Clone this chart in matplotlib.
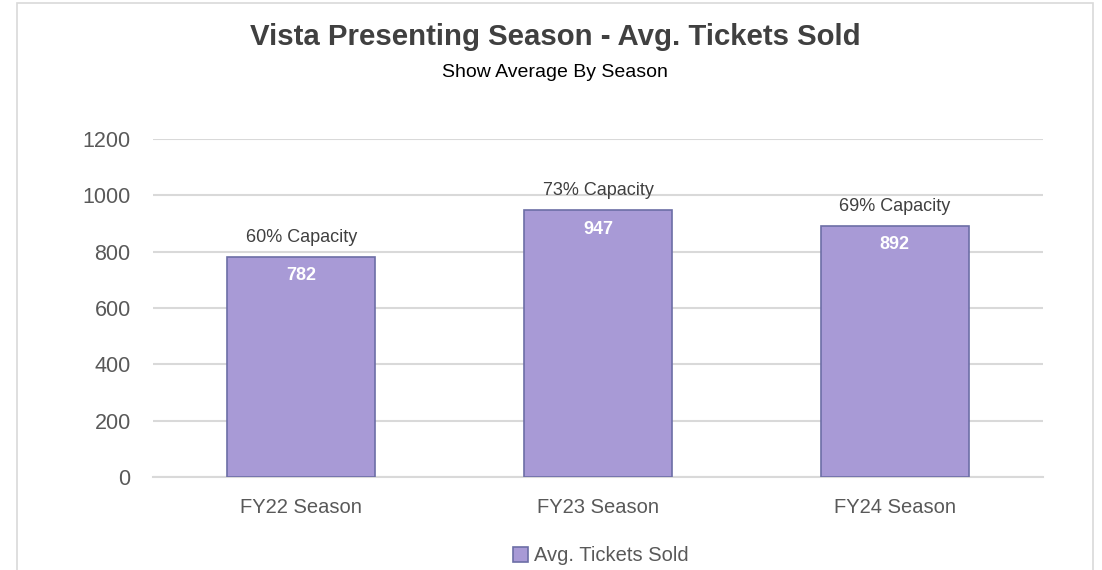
import matplotlib.pyplot as plt
from matplotlib.patches import Rectangle

seasons = ["FY22 Season", "FY23 Season", "FY24 Season"]
avg_tickets = [782, 947, 892]
capacity_pct = [60, 73, 69]
yticks = [0, 200, 400, 600, 800, 1000, 1200]

plt.rcParams['font.family'] = ['Liberation Sans', 'DejaVu Sans']

fig = plt.figure(figsize=(11.02, 5.70), dpi=100)
ax = fig.add_axes([0.1388, 0.163, 0.8077, 0.593])

# light frame around the chart area
fig.patches.append(Rectangle((0.0155, -0.02), 0.976, 1.015, transform=fig.transFigure,
                             fill=False, edgecolor='#d9d9d9', linewidth=1.2))

x = range(len(seasons))
bars = ax.bar(x, avg_tickets, width=0.5, color='#a89ad6', edgecolor='#6c6ea6', linewidth=1.2,
              label='Avg. Tickets Sold', zorder=3)

for xi, v, pct in zip(x, avg_tickets, capacity_pct):
    ax.annotate(f"{pct}% Capacity", (xi, v), xytext=(0, 14), textcoords='offset points',
                ha='center', va='center', fontsize=13, color='#404040')
    ax.annotate(f"{v}", (xi, v), xytext=(0, -13.5), textcoords='offset points',
                ha='center', va='center', fontsize=13, fontweight='bold', color='white')

ax.set_xlim(-0.5, 2.5)
ax.set_ylim(0, 1200)
ax.set_yticks(yticks)
ax.set_xticks(list(x))
ax.set_xticklabels(seasons)
ax.tick_params(axis='both', length=0, colors='#595959')
ax.tick_params(axis='x', pad=15, labelsize=14.5)
ax.tick_params(axis='y', pad=16, labelsize=15.5)
ax.grid(axis='y', color='#d9d9d9', linewidth=1.5, zorder=0)
for s in ['top', 'right', 'left']:
    ax.spines[s].set_visible(False)
ax.spines['bottom'].set_color('#d9d9d9')
ax.spines['bottom'].set_linewidth(1.5)

fig.text(0.504, 0.935, "Vista Presenting Season - Avg. Tickets Sold", ha='center', va='center',
         fontsize=21.2, fontweight='bold', color='#404040')
fig.text(0.504, 0.872, "Show Average By Season", ha='center', va='center',
         fontsize=14, color='black')

fig.legend(handles=[bars], labels=['Avg. Tickets Sold'], loc='center', bbox_to_anchor=(0.545, 0.025),
           frameon=False, fontsize=14.5, handlelength=0.75, handleheight=0.75, handletextpad=0.3,
           labelcolor='#595959')

fig.savefig("out.png", dpi=100)
